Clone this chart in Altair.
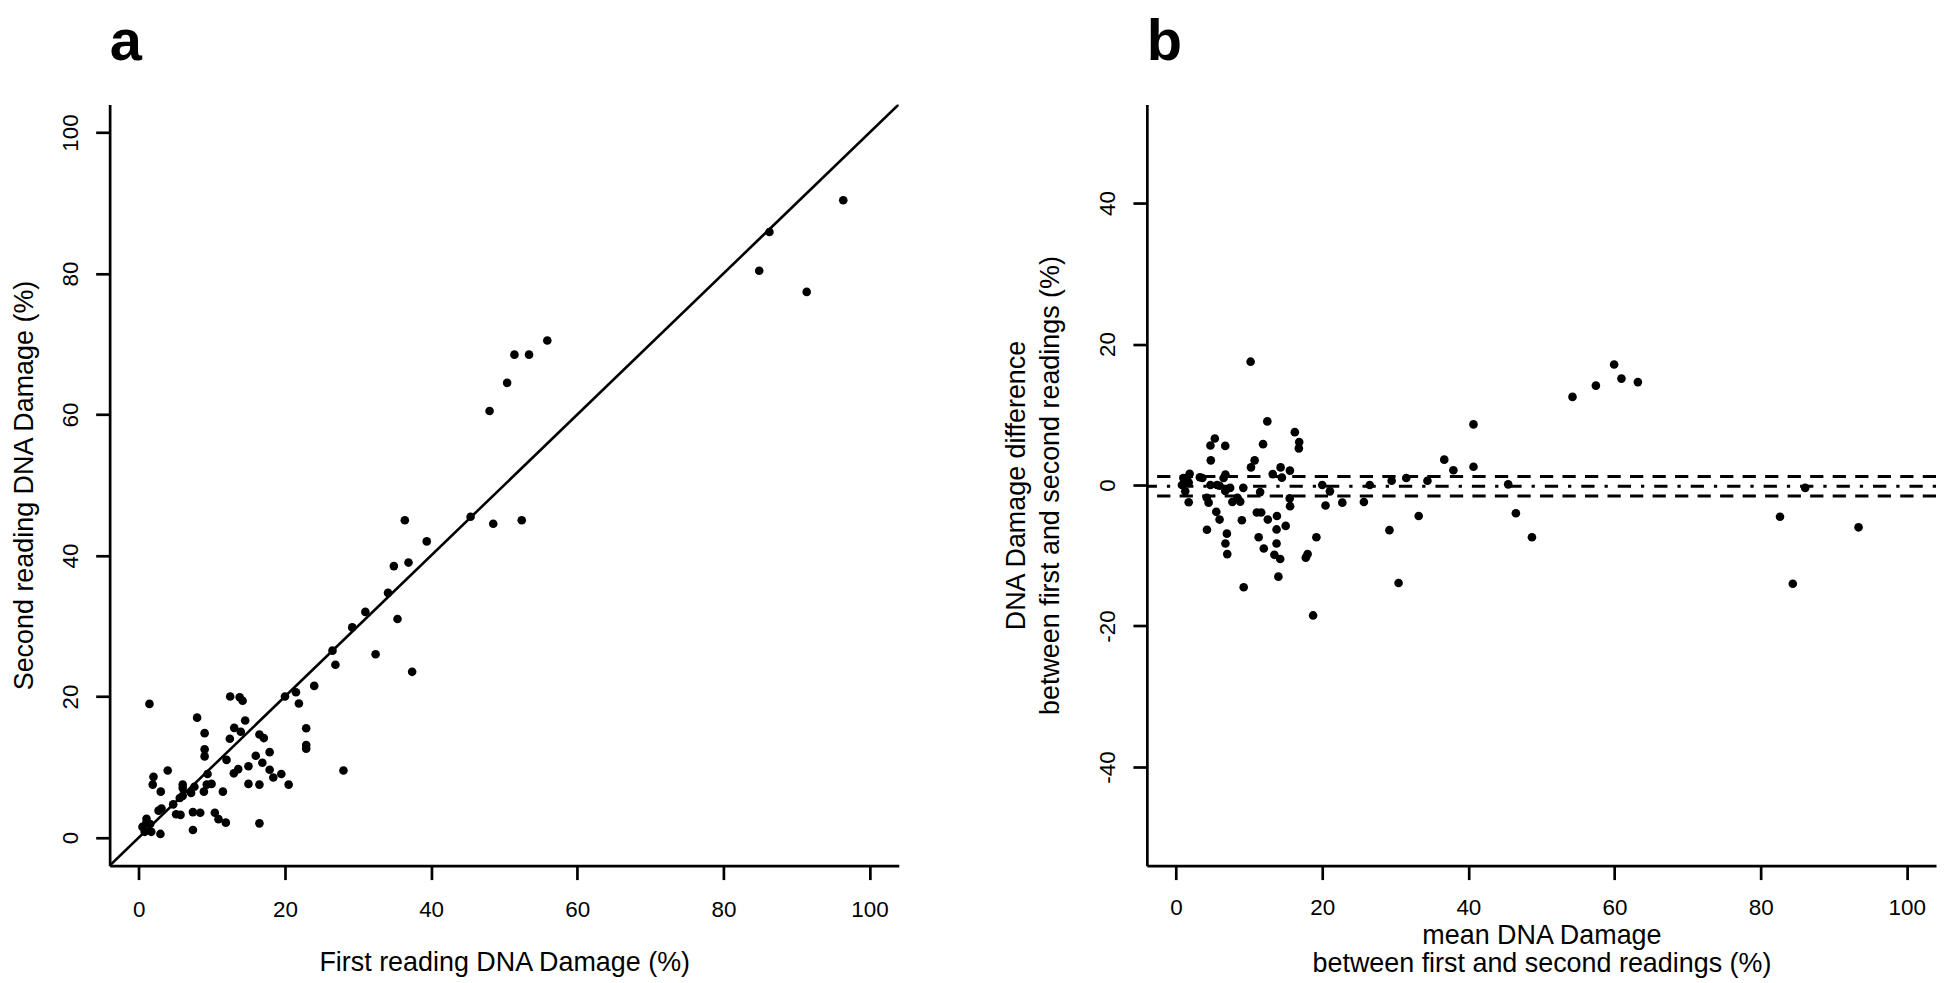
import altair as alt
import pandas as pd

# ---- data ----
first_reading = [
    7.97, 2.0, 1.9, 3.95, 9.0, 12.5, 13.8, 14.2, 3.0, 9.0,
    9.0, 12.45, 13.05, 13.95, 14.55, 1.05, 2.7, 1.0, 6.0, 6.0,
    0.8, 1.55, 4.7, 5.6, 7.6, 9.4, 1.7, 7.15, 12.0, 2.95,
    5.1, 5.7, 8.9, 9.95, 16.5, 17.1, 7.4, 8.4, 7.4, 11.5,
    13.0, 13.6, 15.0, 16.0, 16.9, 17.9, 10.4, 10.9, 11.9, 15.0,
    16.5, 17.9, 18.4, 19.5, 20.5, 16.5, 22.9, 22.9, 22.9, 28.0,
    20.0, 21.5, 21.9, 24.0, 26.9, 26.5, 32.4, 37.4, 29.2, 31.0,
    35.4, 34.1, 34.9, 36.9, 36.4, 39.4, 45.4, 48.5, 52.4, 48.0,
    50.4, 51.4, 53.4, 55.9, 84.9, 86.3, 91.4, 96.4, 1.45, 3.1,
    6.0, 0.5, 9.3,
]
second_reading = [
    17.0, 8.6, 7.5, 9.5, 14.8, 20.0, 19.9, 19.4, 6.5, 12.5,
    11.5, 14.0, 15.55, 15.0, 16.6, 2.65, 3.8, 2.0, 7.5, 7.0,
    0.8, 1.9, 4.7, 5.6, 7.2, 9.0, 0.8, 6.3, 11.0, 0.5,
    3.3, 3.2, 6.5, 7.6, 14.6, 14.1, 3.6, 3.5, 1.05, 6.5,
    9.1, 9.7, 10.1, 11.6, 10.6, 12.1, 3.5, 2.6, 2.1, 7.6,
    7.5, 9.6, 8.5, 9.0, 7.5, 2.0, 12.6, 13.1, 15.5, 9.5,
    20.0, 20.6, 19.0, 21.5, 24.5, 26.5, 26.0, 23.5, 29.8, 32.0,
    31.0, 34.7, 38.5, 39.0, 45.0, 42.0, 45.5, 44.5, 45.0, 60.5,
    64.5, 68.5, 68.5, 70.5, 80.4, 85.9, 77.4, 90.4, 18.95, 4.1,
    5.9, 1.5, 7.5,
]
identity_ends = [-4, 104]          # y = x reference line across the plot
limit_lines = [1.2, -1.55]         # dashed lines (panel b)
mean_line = [-0.17]                # dot-dash line (panel b)
tick_values = [0, 20, 40, 60, 80, 100]
tick_values_b = [-40, -20, 0, 20, 40]

FONT = "Liberation Sans"
PW, PH = 792, 764

df = pd.DataFrame({"first": first_reading, "second": second_reading})
df_id = pd.DataFrame({"x": identity_ends, "y": identity_ends})
df_lim = pd.DataFrame({"v": limit_lines})
df_mean = pd.DataFrame({"v": mean_line})

axis_common = dict(
    grid=False, domainColor="black", domainWidth=2.7, tickColor="black",
    tickWidth=2.7, tickSize=14, labelFont=FONT, labelFontSize=22.5,
    labelColor="black", titleFont=FONT, titleFontSize=27,
    titleFontWeight="normal", titleColor="black", labelExpr="datum.value + ''",
)

def x_axis(title, title_y, label_pad, lh):
    return alt.Axis(title=title, values=tick_values, labelBaseline="alphabetic",
                    labelPadding=label_pad, titleX=PW / 2, titleY=title_y,
                    titleAlign="center", titleBaseline="alphabetic",
                    titleLineHeight=lh, **axis_common)

def y_axis(title, values, title_x, lh):
    return alt.Axis(title=title, values=values, labelAngle=270, labelAlign="center",
                    labelBaseline="alphabetic", labelPadding=18,
                    titleAngle=270, titleX=title_x, titleY=PH / 2,
                    titleAlign="center", titleBaseline="alphabetic",
                    titleLineHeight=lh, **axis_common)

xs = alt.Scale(domain=[-4, 104], nice=False, zero=False)
ys_a = alt.Scale(domain=[-4, 104], nice=False, zero=False)
ys_b = alt.Scale(domain=[-54, 54], nice=False, zero=False)

# ---- panel a ----
pts_a = alt.Chart(df).mark_circle(size=75, color="black", opacity=1, clip=True).encode(
    x=alt.X("first:Q", scale=xs,
            axis=x_axis("First reading DNA Damage (%)", 105.7, 36.7, 31)),
    y=alt.Y("second:Q", scale=ys_a,
            axis=y_axis("Second reading DNA Damage (%)", tick_values, -77.3, 31)),
)
line_a = alt.Chart(df_id).mark_line(color="black", strokeWidth=2.6, clip=True).encode(
    x=alt.X("x:Q", scale=xs), y=alt.Y("y:Q", scale=ys_a)
)
panel_a = alt.layer(line_a, pts_a).properties(
    width=PW, height=PH,
    title=alt.TitleParams("a", anchor="start", frame="group", font=FONT, fontSize=58,
                          fontWeight="bold", color="black", baseline="alphabetic",
                          offset=-13.15),
)

# ---- panel b ----
base_b = alt.Chart(df).transform_calculate(
    mean="(datum.first + datum.second) / 2",
    diff="datum.second - datum.first",
)
pts_b = base_b.mark_circle(size=75, color="black", opacity=1, clip=True).encode(
    x=alt.X("mean:Q", scale=xs,
            axis=x_axis(["mean DNA Damage", "between first and second readings (%)"],
                        78.2, 34.7, 28)),
    y=alt.Y("diff:Q", scale=ys_b,
            axis=y_axis(["DNA Damage difference", "between first and second readings (%)"],
                        tick_values_b, -123, 34)),
)
lim_b = alt.Chart(df_lim).mark_rule(color="black", strokeWidth=3, strokeDash=[13.3, 9.3]).encode(
    y=alt.Y("v:Q", scale=ys_b)
)
mean_b = alt.Chart(df_mean).mark_rule(color="black", strokeWidth=3,
                                      strokeDash=[3.3, 10, 13.3, 10]).encode(
    y=alt.Y("v:Q", scale=ys_b)
)
panel_b = alt.layer(lim_b, mean_b, pts_b).properties(
    width=PW, height=PH,
    title=alt.TitleParams("b", anchor="start", frame="group", font=FONT, fontSize=58,
                          fontWeight="bold", color="black", baseline="alphabetic",
                          offset=-13.15),
)

chart = alt.hconcat(panel_a, panel_b, spacing=249, bounds="flush").properties(
    padding={"left": 2, "top": 4, "right": 0, "bottom": 0},
    background="white",
).configure_view(stroke=None)

chart.save("out.html", embed_options={"renderer": "svg", "actions": False})
